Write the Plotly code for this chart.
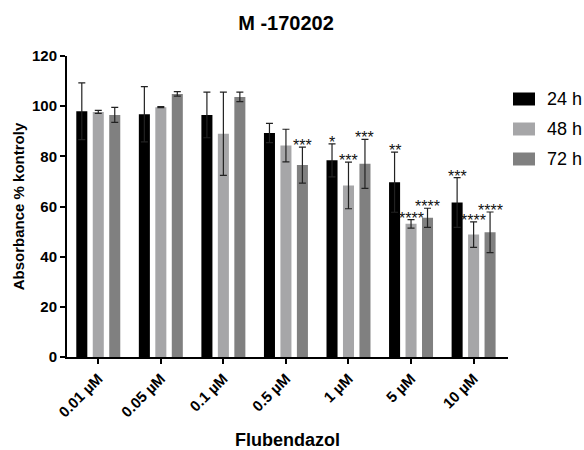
import plotly.graph_objects as go

categories = ["0.01 µM", "0.05 µM", "0.1 µM", "0.5 µM", "1 µM", "5 µM", "10 µM"]
series_names = ["24 h", "48 h", "72 h"]
mean_24 = [98.0, 96.8, 96.5, 89.3, 78.4, 69.7, 61.6]
err_24 = [11.3, 11.0, 9.1, 3.8, 6.6, 12.0, 9.9]
mean_48 = [97.7, 99.6, 89.0, 84.3, 68.4, 53.1, 48.8]
err_48 = [0.6, 0.2, 16.6, 6.5, 9.3, 1.7, 5.1]
mean_72 = [96.5, 104.9, 103.7, 76.5, 77.0, 55.5, 49.7]
err_72 = [3.0, 0.9, 1.9, 7.2, 9.8, 3.8, 8.1]
stars_24 = ["", "", "", "", "*", "**", "***"]
stars_48 = ["", "", "", "", "***", "****", "****"]
stars_72 = ["", "", "", "***", "***", "****", "****"]
colors = ["#000000", "#a6a6a8", "#808080"]

FONT = "Arial, Liberation Sans, sans-serif"
means = [mean_24, mean_48, mean_72]
errs = [err_24, err_48, err_72]
stars = [stars_24, stars_48, stars_72]
xs = list(range(len(categories)))

bargap = 0.21
slot = (1 - bargap) / 3

fig = go.Figure()
for k in range(3):
    fig.add_trace(go.Bar(
        x=xs, y=means[k], name=series_names[k],
        marker=dict(color=colors[k], line=dict(width=0)),
        error_y=dict(type="data", array=errs[k], visible=True,
                     color="#222222", thickness=1.2, width=3.5),
        showlegend=False, hoverinfo="skip",
    ))

annotations = []
for k in range(3):
    for i in xs:
        if stars[k][i]:
            annotations.append(dict(
                x=i + (k - 1) * slot, y=means[k][i] + errs[k][i],
                xref="x", yref="y", text=stars[k][i], showarrow=False,
                yanchor="bottom", yshift=-9,
                font=dict(family=FONT, size=16, color="#111111")))

# legend (drawn manually to match swatch size)
PL, PR, PT, PB = 67, 508, 56, 357
W, H = PR - PL, PB - PT
shapes = []
for k in range(3):
    yc = 99 + 30 * k
    shapes.append(dict(type="rect", xref="paper", yref="paper",
                       x0=(513 - PL) / W, x1=(535 - PL) / W,
                       y0=(PB - (yc + 6.5)) / H, y1=(PB - (yc - 6.5)) / H,
                       fillcolor=colors[k], line=dict(width=0)))
    annotations.append(dict(x=(545 - PL) / W, y=(PB - yc) / H,
                            xref="paper", yref="paper", text=series_names[k],
                            showarrow=False, xanchor="left", yanchor="middle",
                            font=dict(family=FONT, size=18, color="#000000")))

fig.update_layout(
    width=584, height=450,
    margin=dict(l=PL, r=584 - PR, t=PT, b=450 - PB),
    paper_bgcolor="white", plot_bgcolor="white",
    barmode="group", bargap=bargap, bargroupgap=0.33,
    title=dict(text="<b>M -170202</b>", x=286 / 584, xanchor="center",
               y=1 - 23 / 450, yanchor="middle",
               font=dict(family=FONT, size=20, color="#000000")),
    xaxis=dict(range=[-0.5, 6.55], tickvals=xs, automargin=False,
               ticktext=["<b>%s</b>" % c for c in categories],
               tickangle=-45, ticks="outside", ticklen=5, tickwidth=2,
               tickcolor="#000000", showline=True, linecolor="#000000",
               linewidth=2, showgrid=False, zeroline=False,
               tickfont=dict(family=FONT, size=15, color="#000000"),
               title=dict(text="<b>Flubendazol</b>", standoff=20,
                          font=dict(family=FONT, size=18, color="#000000"))),
    yaxis=dict(range=[0, 120], tickvals=[0, 20, 40, 60, 80, 100, 120],
               automargin=False,
               ticktext=["<b>%d</b>" % v for v in [0, 20, 40, 60, 80, 100, 120]],
               ticks="outside", ticklen=5, tickwidth=2, tickcolor="#000000",
               showline=True, linecolor="#000000", linewidth=2,
               showgrid=False, zeroline=False,
               tickfont=dict(family=FONT, size=15, color="#000000"),
               title=dict(text="<b>Absorbance % kontroly</b>", standoff=4,
                          font=dict(family=FONT, size=15, color="#000000"))),
    annotations=annotations, shapes=shapes,
)

fig.write_html("out.html", config={"displayModeBar": False},
               post_script="document.body.style.margin='0px';document.body.style.padding='0px';")
